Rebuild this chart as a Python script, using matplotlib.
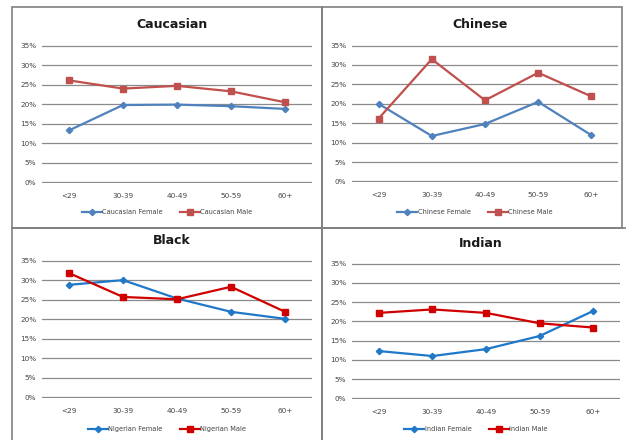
import matplotlib
matplotlib.use("Agg")
import matplotlib.pyplot as plt
from matplotlib.patches import Rectangle
from matplotlib.ticker import FuncFormatter

ages = ["<29", "30-39", "40-49", "50-59", "60+"]

caucasian_female = [13.3, 19.8, 19.9, 19.5, 18.8]
caucasian_male = [26.1, 24.0, 24.7, 23.3, 20.5]
chinese_female = [20.0, 11.7, 14.8, 20.5, 11.9]
chinese_male = [16.2, 31.5, 20.9, 28.0, 21.9]
nigerian_female = [28.8, 30.0, 25.3, 21.9, 20.1]
nigerian_male = [31.8, 25.7, 25.1, 28.3, 21.9]
indian_female = [12.3, 11.0, 12.8, 16.2, 22.7]
indian_male = [22.2, 23.1, 22.2, 19.5, 18.4]

W, H = 626, 440


def px_axes(fig, x0, x1, ytop, ybot):
    return fig.add_axes([x0 / W, 1 - ybot / H, (x1 - x0) / W, (ybot - ytop) / H])


def panel_box(fig, x0, x1, ytop, ybot):
    r = Rectangle((x0 / W, 1 - ybot / H), (x1 - x0) / W, (ybot - ytop) / H,
                  transform=fig.transFigure, fill=False, edgecolor="#808080", linewidth=1.2)
    fig.patches.append(r)


def draw(ax, title, title_y, female, male, names, colors, legend_y):
    x = range(len(ages))
    ax.plot(x, female, color=colors[0], lw=1.6, marker="D", ms=3.2, label=names[0])
    ax.plot(x, male, color=colors[1], lw=1.6, marker="s", ms=4.5, label=names[1])
    ax.set_xlim(-0.5, 4.5)
    ax.set_ylim(-0.15, 35.15)
    ax.set_yticks(range(0, 36, 5))
    ax.yaxis.set_major_formatter(FuncFormatter(lambda v, p: "%d%%" % v))
    ax.set_xticks(list(x))
    ax.set_xticklabels(ages)
    ax.grid(axis="y", color="#8a8a8a", lw=0.9)
    ax.set_axisbelow(True)
    for s in ax.spines.values():
        s.set_visible(False)
    ax.tick_params(length=0, labelsize=5.2, colors="#444444", pad=4)
    ax.tick_params(axis="x", pad=7)
    fig = ax.figure
    bb = ax.get_position()
    cx = bb.x0 + bb.width / 2 - 0.008
    fig.text(cx, 1 - title_y / H, title, ha="center", va="center",
             fontsize=9, fontweight="bold", color="#1a1a1a")
    ax.legend(loc="center", bbox_to_anchor=(cx - 0.008, 1 - legend_y / H), bbox_transform=fig.transFigure,
              ncol=2, frameon=False, fontsize=4.8, handlelength=3.0, columnspacing=2.5,
              labelcolor="#444444", handletextpad=0.1, numpoints=1)


fig = plt.figure(figsize=(W / 100, H / 100), dpi=100)
fig.patch.set_facecolor("white")

panel_box(fig, 12, 322, 7, 228)
panel_box(fig, 322, 622, 7, 228)
panel_box(fig, 12, 322, 228, 445)
panel_box(fig, 322, 630, 228, 445)

top_cols = ["#4F81BD", "#C0504D"]
bot_cols = ["#1F78C8", "#D00000"]

ax1 = px_axes(fig, 42, 312, 45, 183)
draw(ax1, "Caucasian", 25, caucasian_female, caucasian_male,
     ["Caucasian Female", "Caucasian Male"], top_cols, 212)
ax2 = px_axes(fig, 352, 618, 45, 182)
draw(ax2, "Chinese", 25, chinese_female, chinese_male,
     ["Chinese Female", "Chinese Male"], top_cols, 212)
ax3 = px_axes(fig, 42, 312, 260, 398)
draw(ax3, "Black", 240, nigerian_female, nigerian_male,
     ["Nigerian Female", "Nigerian Male"], bot_cols, 429)
ax4 = px_axes(fig, 352, 620, 263, 399)
draw(ax4, "Indian", 243, indian_female, indian_male,
     ["Indian Female", "Indian Male"], bot_cols, 429)

fig.savefig("out.png", dpi=100)
